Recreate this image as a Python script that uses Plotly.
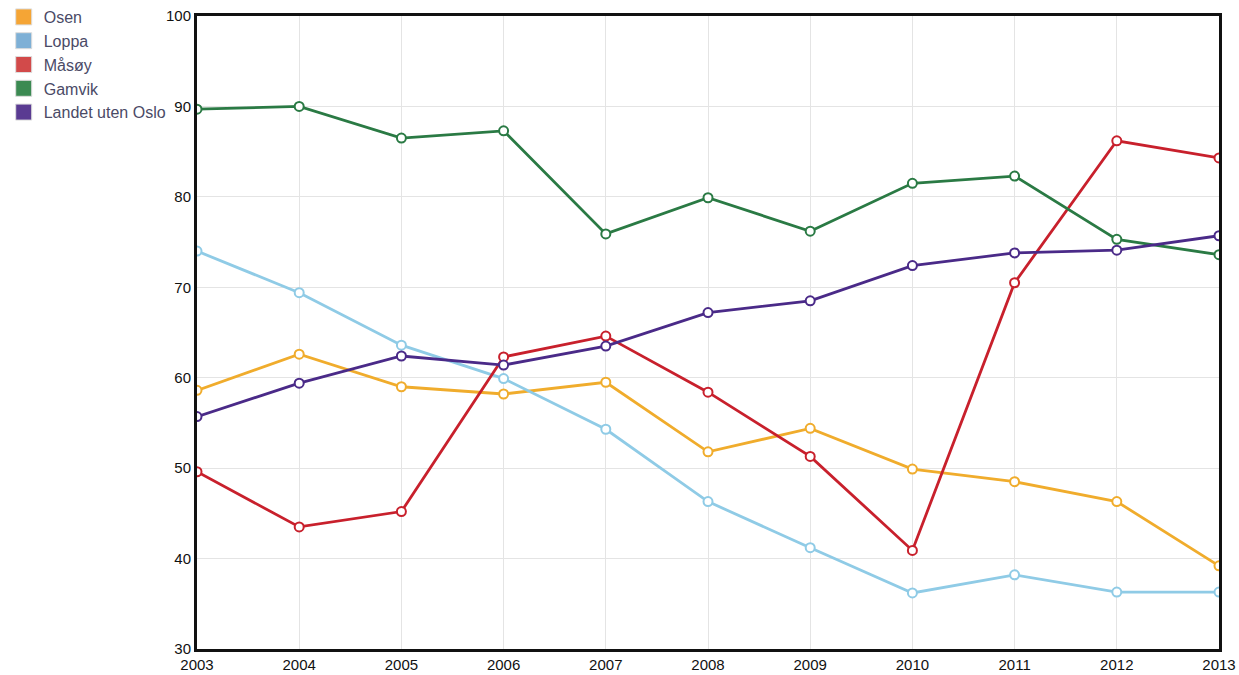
import plotly.graph_objects as go

years = [2003, 2004, 2005, 2006, 2007, 2008, 2009, 2010, 2011, 2012, 2013]
osen = [58.6, 62.6, 59.0, 58.2, 59.5, 51.8, 54.4, 49.9, 48.5, 46.3, 39.2]
loppa = [74.0, 69.4, 63.6, 59.9, 54.3, 46.3, 41.2, 36.2, 38.2, 36.3, 36.3]
masoy = [49.6, 43.5, 45.2, 62.3, 64.6, 58.4, 51.3, 40.9, 70.5, 86.2, 84.3]
gamvik = [89.7, 90.0, 86.5, 87.3, 75.9, 79.9, 76.2, 81.5, 82.3, 75.3, 73.6]
landet = [55.7, 59.4, 62.4, 61.4, 63.5, 67.2, 68.5, 72.4, 73.8, 74.1, 75.7]

names = ["Osen", "Loppa", "Måsøy", "Gamvik", "Landet uten Oslo"]
series = [osen, loppa, masoy, gamvik, landet]
line_colors = ["#f0ac2c", "#8fcbe6", "#c8202c", "#2a7a44", "#4a2a88"]
swatch_colors = ["#f5a535", "#7eb0d6", "#d24a4a", "#3b8a52", "#5a3b92"]

fig = go.Figure()
for name, vals, lc in zip(names, series, line_colors):
    fig.add_trace(go.Scatter(
        x=years, y=vals, name=name, mode="lines+markers",
        line=dict(color=lc, width=2.8),
        marker=dict(symbol="circle", size=9, color="white", line=dict(color=lc, width=2)),
        showlegend=False,
    ))
for name, sc in zip(names, swatch_colors):
    fig.add_trace(go.Scatter(
        x=[None], y=[None], name=name, mode="markers",
        marker=dict(symbol="square", size=17, color=sc, line=dict(color="#dddddd", width=1)),
        showlegend=True,
    ))

fig.update_layout(
    width=1239, height=675,
    margin=dict(l=197, r=20, t=16, b=26, autoexpand=False),
    paper_bgcolor="white", plot_bgcolor="white",
    font=dict(family="Liberation Sans, Arial, sans-serif", size=15, color="#111111"),
    legend=dict(
        xref="container", yref="container", x=0.003, y=1.0,
        xanchor="left", yanchor="top",
        font=dict(size=16, color="#4a4a66"),
        bgcolor="rgba(0,0,0,0)", tracegroupgap=0, itemwidth=30,
    ),
    showlegend=True,
)
fig.update_xaxes(
    range=[2003, 2013], tickmode="array", tickvals=years,
    ticktext=[str(y) for y in years],
    showgrid=True, gridcolor="#e4e4e4", gridwidth=1,
    showline=True, linecolor="#111111", linewidth=3, mirror=True,
    ticks="", zeroline=False, tickfont=dict(size=15, color="#111111"),
)
fig.update_yaxes(
    range=[30, 100], tickmode="array", tickvals=[30, 40, 50, 60, 70, 80, 90, 100],
    showgrid=True, gridcolor="#e4e4e4", gridwidth=1,
    showline=True, linecolor="#111111", linewidth=3, mirror=True,
    ticks="", zeroline=False, tickfont=dict(size=15, color="#111111"),
)

fig.write_html(
    "out.html",
    config={"displayModeBar": False},
    post_script="document.body.style.margin='0';document.body.style.overflow='hidden';",
)
